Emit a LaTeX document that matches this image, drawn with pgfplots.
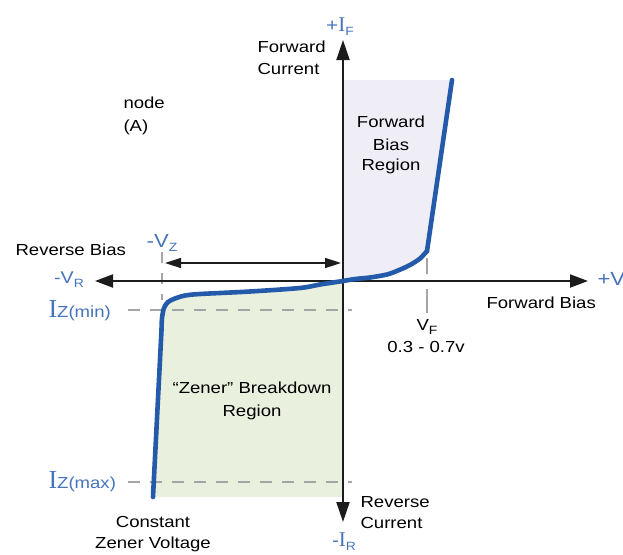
\documentclass[border=0pt]{standalone}
\usepackage{fontspec}
\setmainfont{Liberation Sans}[FakeStretch=1.16]
\newfontfamily\serifI{Liberation Serif}
\usepackage{pgfplots}
\pgfplotsset{compat=1.18}
\usetikzlibrary{arrows.meta}
\definecolor{curveblue}{RGB}{36,90,170}
\definecolor{lblblue}{RGB}{70,115,188}
\definecolor{fwdfill}{RGB}{239,238,246}
\definecolor{zenfill}{RGB}{233,240,221}
\definecolor{axisgray}{RGB}{28,28,28}
\definecolor{dashgray}{RGB}{165,165,165}
\definecolor{txt}{RGB}{40,40,40}
\newcommand\lbl{\fontsize{16}{20}\selectfont}
\newcommand\bigI[1]{{\serifI\fontsize{#1}{#1}\selectfont I}}
\newcommand\sub[1]{\raisebox{-4pt}{\fontsize{12}{12}\selectfont #1}}

\begin{document}
\begin{tikzpicture}
\begin{axis}[
  scale only axis, width=623pt, height=554pt,
  xmin=0, xmax=623, ymin=0, ymax=554, y dir=reverse,
  axis lines=none,
  every node/.style={text=txt, inner sep=0pt},
]
% shaded regions
\addplot[fill=fwdfill, draw=none] coordinates {
  (343,281) (355,279) (370,277.5) (387,274.5) (398,270.5) (410,265) (420,258.5) (427,251)
  (452,80) (343,80)} -- cycle;
\addplot[fill=zenfill, draw=none] coordinates {
  (343,281) (320,284.5) (300,288) (250,291.5) (200,294) (185,295.5) (175,298.5)
  (168,302) (164,308) (162,318) (161.5,330) (153,497) (343,497)} -- cycle;

% dashed guide lines
\addplot[dashgray, line width=1.2pt, dash pattern=on 12pt off 10pt] coordinates {(128,310) (352,310)};
\addplot[dashgray, line width=1.2pt, dash pattern=on 12pt off 10pt] coordinates {(128,482) (352,482)};
\addplot[dashgray, line width=1.2pt, dash pattern=on 11pt off 10pt] coordinates {(162,252) (162,300)};
\addplot[dashgray, line width=1.2pt] coordinates {(427,258) (427,274)};
\addplot[dashgray, line width=1.2pt] coordinates {(427,289) (427,313)};

% axes
\addplot[axisgray, line width=2pt, {Triangle[length=20pt,width=13pt]}-{Triangle[length=20pt,width=13pt]}]
  coordinates {(343,522) (343,40)};
\addplot[axisgray, line width=2pt, {Triangle[length=18pt,width=13pt]}-{Triangle[length=18pt,width=13pt]}]
  coordinates {(95,281) (588,281)};
% -Vz dimension arrow
\addplot[axisgray, line width=1.5pt, {Triangle[length=16pt,width=10pt]}-{Triangle[length=16pt,width=10pt]}]
  coordinates {(165,263) (341,263)};

% characteristic curve
\addplot[curveblue, line width=4.6pt, smooth, tension=0.5, line cap=round] coordinates {
  (427,251) (420,258.5) (410,265) (398,270.5) (387,274.5) (370,277.5) (355,279) (343,281)
  (320,284.5) (300,288) (250,291.5) (200,294) (185,295.5) (175,298.5)
  (168,302) (164,308) (162,318) (161.5,330)};
\addplot[curveblue, line width=4.6pt, line cap=round] coordinates {(161.5,330) (153,497)};
\addplot[curveblue, line width=4.6pt, line cap=round] coordinates {(427,251) (452,80)};

% texts
\node[anchor=base west, font=\lbl] at (254,52) {Forward};
\node[anchor=base west, font=\lbl] at (254,74) {Current};
\node[anchor=base west, font=\lbl] at (120,108) {node};
\node[anchor=base west, font=\lbl] at (120,131) {(A)};
\node[anchor=base, font=\lbl] at (391,127) {Forward};
\node[anchor=base, font=\lbl] at (391,150) {Bias};
\node[anchor=base, font=\lbl] at (391,170) {Region};
\node[anchor=base west, font=\lbl] at (12,255) {Reverse Bias};
\node[anchor=base west, font=\lbl] at (483,308) {Forward Bias};
\node[anchor=base, font=\lbl] at (427,330) {V\sub{F}};
\node[anchor=base, font=\lbl] at (426,352) {0.3 - 0.7v};
\node[anchor=base, font=\lbl] at (252,393) {“Zener” Breakdown};
\node[anchor=base, font=\lbl] at (252,416) {Region};
\node[anchor=base, font=\lbl] at (153,527) {Constant};
\node[anchor=base, font=\lbl] at (153,548) {Zener Voltage};
\node[anchor=base west, font=\lbl] at (357,507) {Reverse};
\node[anchor=base west, font=\lbl] at (357,528) {Current};

% blue symbols
\node[anchor=base, text=lblblue, font=\fontsize{18}{18}\selectfont] at (340,31) {+\bigI{21}\sub{F}};
\node[anchor=base, text=lblblue, font=\fontsize{18}{18}\selectfont] at (344,546) {-\bigI{21}\sub{R}};
\node[anchor=base, text=lblblue, font=\fontsize{19}{19}\selectfont] at (162,247) {-V\sub{Z}};
\node[anchor=base, text=lblblue, font=\fontsize{17}{17}\selectfont] at (69,283) {-V\sub{R}};
\node[anchor=base west, text=lblblue, font=\fontsize{19}{19}\selectfont] at (594,285) {+V\sub{F}};
\node[anchor=base west, text=lblblue, font=\lbl] at (45,317) {\bigI{26}Z(min)};
\node[anchor=base west, text=lblblue, font=\lbl] at (45,488) {\bigI{26}Z(max)};
\end{axis}
\pgfresetboundingbox
\useasboundingbox (current axis.south west) rectangle (current axis.north east);
\end{tikzpicture}
\end{document}
